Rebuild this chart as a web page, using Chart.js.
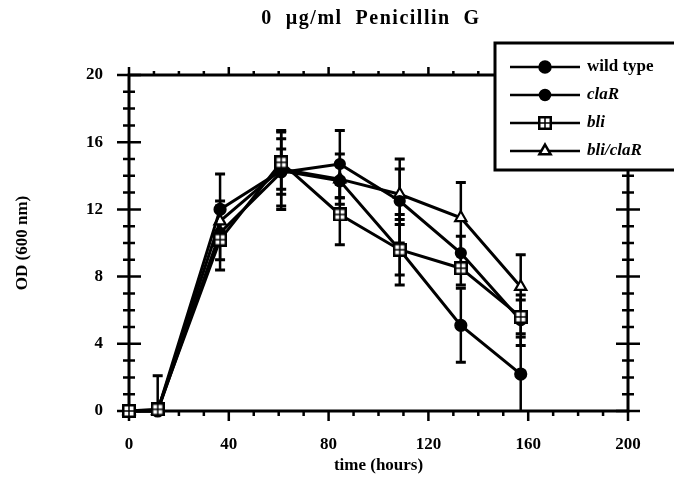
<!DOCTYPE html>
<html>
<head>
<meta charset="utf-8">
<script src="https://cdn.jsdelivr.net/npm/chart.js@4/dist/chart.umd.min.js"></script>
<style>
  html, body { margin: 0; background: #fff; }
  #wrap { width: 674px; height: 480px; }
</style>
</head>
<body>
<div id="wrap"><canvas id="chart" width="674" height="480"></canvas></div>
<script>
// sampling times (hours)
const hours = [0, 11.5, 36.5, 61, 84.5, 108.5, 133, 157];

// OD (600 nm) per strain
const wildType = [0, 0, 12.0, 14.3, 13.7, 9.6, 5.1, 2.2];
const claR     = [0, 0, 10.6, 14.2, 14.7, 12.5, 9.4, 5.4];
const bli      = [0, 0.1, 10.2, 14.8, 11.7, 9.6, 8.5, 5.6];
const bliClaR  = [0, 0, 11.3, 14.4, 13.8, 12.9, 11.5, 7.4];

// error bar half-widths
const wildTypeErr = [0, 2.1, 2.1, 2.3, 1.0, 2.1, 2.2, 2.2];
const claRErr     = [0, 0, 1.6, 2.0, 2.0, 2.5, 1.0, 1.5];
const bliErr      = [0, 0, 1.8, 1.9, 1.8, 1.5, 1.0, 1.0];
const bliClaRErr  = [0, 0, 1.2, 1.2, 1.5, 1.5, 2.1, 1.9];

const seriesLabels = ['wild type', 'claR', 'bli', 'bli/claR'];
const xTicks = [0, 40, 80, 120, 160, 200];
const yTicks = [0, 4, 8, 12, 16, 20];
const titleText = '0  \u00B5g/ml  Penicillin  G';
const xTitle = 'time (hours)';
const yTitle = 'OD (600 nm)';

const SERIF = '"Liberation Serif", "DejaVu Serif", serif';

// open square with a cross inside, used for "bli"
function makeCrossSquare(size) {
    const c = document.createElement('canvas');
    c.width = size;
    c.height = size;
    const g = c.getContext('2d');
    g.fillStyle = '#fff';
    g.fillRect(1, 1, size - 2, size - 2);
    g.strokeStyle = '#000';
    g.lineWidth = 2.5;
    g.strokeRect(1.25, 1.25, size - 2.5, size - 2.5);
    g.lineWidth = 1.5;
    g.beginPath();
    g.moveTo(size / 2, 2);
    g.lineTo(size / 2, size - 2);
    g.moveTo(2, size / 2);
    g.lineTo(size - 2, size / 2);
    g.stroke();
    return c;
}
const crossSquare = makeCrossSquare(14);

function toPoints(ys) {
    return hours.map((h, i) => ({ x: h, y: ys[i] }));
}

// lower order is drawn on top
const seriesStyles = [
    { pointStyle: 'circle', radius: 5.5, bg: '#000', order: 1 },
    { pointStyle: 'circle', radius: 5, bg: '#000', order: 2 },
    { pointStyle: crossSquare, radius: 7, bg: '#fff', order: 0 },
    { pointStyle: 'triangle', radius: 6.5, bg: '#fff', order: 3 }
];
const seriesValues = [wildType, claR, bli, bliClaR];
const seriesErrors = [wildTypeErr, claRErr, bliErr, bliClaRErr];

const datasets = seriesValues.map((vals, i) => ({
    label: seriesLabels[i],
    data: toPoints(vals),
    errors: seriesErrors[i],
    order: seriesStyles[i].order,
    clip: false,
    showLine: true,
    borderColor: '#000',
    borderWidth: 3,
    pointStyle: seriesStyles[i].pointStyle,
    pointRadius: seriesStyles[i].radius,
    pointBackgroundColor: seriesStyles[i].bg,
    pointBorderColor: '#000',
    pointBorderWidth: 2.2,
    tension: 0
}));

const frameAndBars = {
    id: 'frameAndBars',
    beforeDatasetsDraw(chart) {
        const { ctx, chartArea: a, scales: { x, y } } = chart;
        ctx.save();
        ctx.strokeStyle = '#000';
        ctx.lineCap = 'butt';

        // error bars
        ctx.save();
        ctx.beginPath();
        ctx.rect(a.left - 10, a.top - 10, a.right - a.left + 20, a.bottom - a.top + 10);
        ctx.clip();
        chart.data.datasets.forEach(ds => {
            ds.data.forEach((p, i) => {
                const e = ds.errors[i];
                if (!e) return;
                const px = x.getPixelForValue(p.x);
                const top = y.getPixelForValue(p.y + e);
                const bot = y.getPixelForValue(Math.max(0, p.y - e));
                ctx.lineWidth = 2.5;
                ctx.beginPath();
                ctx.moveTo(px, top);
                ctx.lineTo(px, bot);
                ctx.stroke();
                ctx.lineWidth = 3;
                ctx.beginPath();
                ctx.moveTo(px - 5, top);
                ctx.lineTo(px + 5, top);
                if (p.y - e > 0) {
                    ctx.moveTo(px - 5, bot);
                    ctx.lineTo(px + 5, bot);
                }
                ctx.stroke();
            });
        });
        ctx.restore();

        // frame
        ctx.lineWidth = 3;
        ctx.strokeRect(a.left, a.top, a.right - a.left, a.bottom - a.top);

        // y axis ticks, left and right, crossing the axis
        ctx.lineWidth = 2.5;
        for (let v = 0; v <= 20; v++) {
            const py = y.getPixelForValue(v);
            const len = v % 4 === 0 ? 12 : 6;
            ctx.beginPath();
            ctx.moveTo(a.left - len, py);
            ctx.lineTo(a.left + len, py);
            ctx.moveTo(a.right - len, py);
            ctx.lineTo(a.right + len, py);
            ctx.stroke();
        }
        // x axis ticks, down on bottom, up on top
        for (let v = 0; v <= 200; v += 10) {
            const px = x.getPixelForValue(v);
            const major = v % 40 === 0;
            ctx.beginPath();
            ctx.moveTo(px, a.bottom);
            ctx.lineTo(px, a.bottom + (major ? 10 : 5));
            ctx.moveTo(px, a.top);
            ctx.lineTo(px, a.top - (major ? 8 : 4));
            ctx.stroke();
        }
        ctx.restore();
    },
    afterDraw(chart) {
        const { ctx } = chart;
        ctx.save();

        // title
        ctx.fillStyle = '#000';
        ctx.font = 'bold 20px ' + SERIF;
        ctx.letterSpacing = '1.5px';
        ctx.textAlign = 'center';
        ctx.textBaseline = 'middle';
        ctx.fillText(titleText, 371, 19);
        ctx.letterSpacing = '0px';

        // legend box
        const bx = 495, by = 43, bw = 200, bh = 127;
        ctx.fillStyle = '#fff';
        ctx.fillRect(bx, by, bw, bh);
        ctx.strokeStyle = '#000';
        ctx.lineWidth = 3;
        ctx.strokeRect(bx, by, bw, bh);

        const rows = [67, 95, 123, 151];
        chart.data.datasets.forEach((ds, i) => {
            const ry = rows[i];
            ctx.lineWidth = 2.5;
            ctx.strokeStyle = '#000';
            ctx.beginPath();
            ctx.moveTo(510, ry);
            ctx.lineTo(580, ry);
            ctx.stroke();
            ctx.fillStyle = ds.pointBackgroundColor;
            Chart.helpers.drawPoint(ctx, {
                pointStyle: ds.pointStyle,
                radius: ds.pointRadius,
                borderWidth: 2.2,
                rotation: 0
            }, 545, ry);
            ctx.fillStyle = '#000';
            ctx.font = (i === 0 ? 'bold ' : 'italic bold ') + '17px ' + SERIF;
            ctx.textAlign = 'left';
            ctx.textBaseline = 'middle';
            ctx.fillText(ds.label, 587, ry);
        });
        ctx.restore();
    }
};

new Chart(document.getElementById('chart'), {
    type: 'scatter',
    data: { datasets },
    options: {
        responsive: false,
        animation: false,
        devicePixelRatio: 1,
        layout: { padding: { top: 75, right: 46, left: 0, bottom: 0 } },
        plugins: {
            legend: { display: false },
            title: { display: false },
            tooltip: { enabled: false }
        },
        scales: {
            x: {
                type: 'linear',
                min: 0,
                max: 200,
                afterFit(scale) { scale.height = 69; },
                afterBuildTicks(scale) { scale.ticks = xTicks.map(v => ({ value: v })); },
                grid: { display: false },
                border: { display: false },
                ticks: {
                    color: '#000',
                    padding: 15,
                    font: { family: SERIF, size: 17, weight: 'bold' }
                },
                title: {
                    display: true,
                    text: xTitle,
                    color: '#000',
                    padding: { top: 0, bottom: 4 },
                    font: { family: SERIF, size: 17, weight: 'bold' }
                }
            },
            y: {
                type: 'linear',
                min: 0,
                max: 20,
                afterFit(scale) { scale.width = 129; },
                afterBuildTicks(scale) { scale.ticks = yTicks.map(v => ({ value: v })); },
                grid: { display: false },
                border: { display: false },
                ticks: {
                    color: '#000',
                    padding: 18,
                    font: { family: SERIF, size: 17, weight: 'bold' }
                },
                title: {
                    display: true,
                    text: yTitle,
                    color: '#000',
                    padding: { top: 12 },
                    font: { family: SERIF, size: 17, weight: 'bold' }
                }
            }
        }
    },
    plugins: [frameAndBars]
});
</script>
</body>
</html>
